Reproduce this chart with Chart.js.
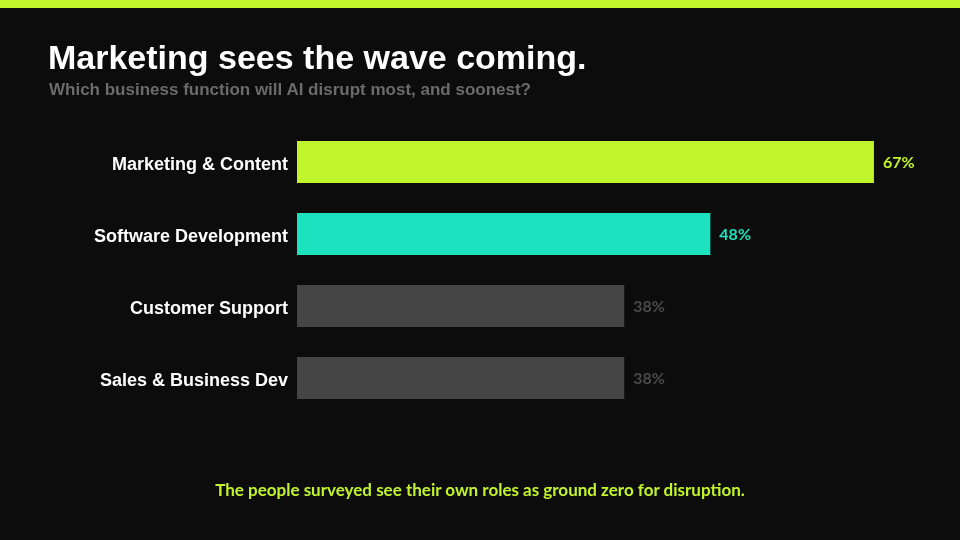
<!DOCTYPE html>
<html>
<head>
<meta charset="utf-8">
<script src="https://cdn.jsdelivr.net/npm/chart.js@4.4.0/dist/chart.umd.min.js"></script>
<style>
  html, body { margin: 0; padding: 0; background: #0c0c0c; }
  #wrap { position: relative; width: 960px; height: 540px; overflow: hidden; background: #0c0c0c; }
  #topbar { position: absolute; left: 0; top: 0; width: 960px; height: 8px; background: #c1f42c; }
  #title { position: absolute; left: 48px; top: 38px; font: bold 34px "Liberation Sans", Arial, sans-serif; color: #fff; white-space: nowrap; }
  #subtitle { position: absolute; left: 49px; top: 80px; font: bold 17px "Liberation Sans", Arial, sans-serif; color: #6b6b6b; white-space: nowrap; }
  #footer { position: absolute; left: 0; width: 960px; top: 479px; text-align: center; font: bold 17px Lato, "Open Sans", sans-serif; color: #c1f42c; }
  #canvas { position: absolute; left: 0; top: 0; }
</style>
</head>
<body>
<div id="wrap">
  <div id="topbar"></div>
  <canvas id="canvas" width="960" height="540"></canvas>
  <div id="title">Marketing sees the wave coming.</div>
  <div id="subtitle">Which business function will AI disrupt most, and soonest?</div>
  <div id="footer">The people surveyed see their own roles as ground zero for disruption.</div>
</div>
<script>
const labels = ['Marketing & Content', 'Software Development', 'Customer Support', 'Sales & Business Dev'];
const values = [67, 48, 38, 38];
const barColors = ['#c1f52b', '#1de2c0', '#454545', '#454545'];
const labelColors = ['#c1f42c', '#1ee0bd', '#4a4a4a', '#4a4a4a'];

// value labels at the end of each bar
const valueLabels = {
    id: 'valueLabels',
    afterDatasetsDraw(chart) {
        const ctx = chart.ctx;
        const meta = chart.getDatasetMeta(0);
        ctx.save();
        ctx.font = 'bold 16px Lato, "Open Sans", sans-serif';
        ctx.textBaseline = 'middle';
        ctx.textAlign = 'left';
        meta.data.forEach((bar, i) => {
            ctx.fillStyle = labelColors[i];
            ctx.fillText(values[i] + '%', bar.x + 9, bar.y + 1);
        });
        ctx.restore();
    }
};

const config = {
    type: 'bar',
    data: {
        labels: labels,
        datasets: [{
            data: values,
            backgroundColor: barColors,
            borderColor: barColors,
            borderWidth: 0,
            barPercentage: 0.585,
            categoryPercentage: 1
        }]
    },
    options: {
        indexAxis: 'y',
        responsive: false,
        animation: false,
        layout: { padding: { top: 126, bottom: 126, left: 0, right: 43 } },
        plugins: {
            legend: { display: false },
            tooltip: { enabled: false }
        },
        scales: {
            x: {
                display: false,
                min: 0,
                max: 72
            },
            y: {
                grid: { display: false },
                border: { display: false },
                ticks: {
                    color: '#ffffff',
                    padding: 1,
                    labelOffset: 3,
                    font: { family: '"Liberation Sans", Arial, sans-serif', size: 18, weight: 'bold' }
                },
                afterFit: function (scale) {
                    scale.width = 297;
                }
            }
        }
    },
    plugins: [valueLabels]
};

const chart = new Chart(document.getElementById('canvas'), config);
</script>
</body>
</html>
